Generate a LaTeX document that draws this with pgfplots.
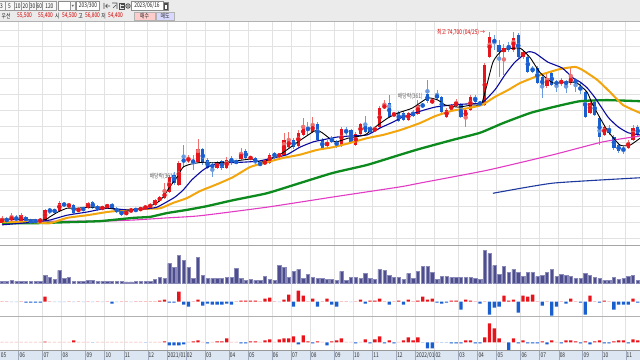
\documentclass[border=0pt]{standalone}
\usepackage{pgfplots}
\pgfplotsset{compat=1.18}
\usepackage{pgfplotstable}
\usepackage{graphicx}
\usepackage{fontspec}
\setmainfont{Noto Sans CJK KR}
\definecolor{upc}{HTML}{E8141C}
\definecolor{dnc}{HTML}{1A5FD0}
\definecolor{upw}{HTML}{F07070}
\definecolor{dnw}{HTML}{6A9AE0}
\definecolor{gridc}{HTML}{E2E2E2}
\definecolor{volc}{HTML}{4E4E8E}
\definecolor{vole}{HTML}{8A8AB8}
\definecolor{upl}{HTML}{F4A6A6}
\definecolor{dnl}{HTML}{A6C4F0}
\definecolor{maten}{HTML}{0A0AA0}
\definecolor{matw}{HTML}{F2A50C}
\definecolor{masx}{HTML}{0C8A1E}
\definecolor{maot}{HTML}{E23CC4}
\definecolor{matf}{HTML}{1E3A9E}
\definecolor{tbbg}{HTML}{EBEBEB}
\definecolor{stripc}{HTML}{DCE6F2}
\definecolor{stripg}{HTML}{9EAABC}
\newcommand{\tx}[1]{{\fontsize{6.5}{7}\selectfont\scalebox{0.75}[1]{#1}}}

\pgfplotstableread{
w o h l c
0 38900 40300 38800 39900
1 39700 40100 38900 39300
2 39700 40800 39300 39900
3 40100 40400 39100 39500
4 39300 40800 39100 40400
5 40100 40300 39100 39300
6 39500 39700 38900 39100
7 39500 39700 38900 39100
8 39100 39900 38900 39700
9 39500 41600 39300 41400
10 41400 41700 40600 41200
11 41400 41600 40800 41000
12 41200 43100 41000 42700
13 42700 42900 41900 42100
14 42100 42700 41900 42300
15 42300 42500 40600 40800
16 41200 41700 41000 41600
17 41700 41900 41200 41400
18 41700 42900 41600 42700
19 42900 43100 41600 41700
20 42100 42300 41200 41400
21 41600 42100 41400 41900
22 41900 42500 41700 42300
23 42500 42700 41600 41700
24 41700 41900 40800 41000
25 41200 41400 40300 40400
26 40600 41200 40400 41000
27 41000 41700 40800 41600
28 41600 41700 41000 41200
29 41400 41900 41200 41700
30 41600 42300 41400 42100
31 41700 42700 41600 42500
32 42300 43400 42100 43200
33 43100 44000 42900 43800
34 43600 46400 43400 44700
35 44700 47900 44600 47500
36 47900 48500 46000 46400
37 46000 50500 45900 50200
38 50700 53500 49200 50500
39 50700 51700 50200 50900
40 50700 51700 48800 50200
41 50300 54600 50200 52800
42 52800 53000 49800 50200
43 50700 51100 49000 49200
44 49800 50300 47500 49400
45 49200 50500 49000 50200
46 50500 50700 48800 49200
47 49200 51300 49000 50700
48 51100 51500 49800 50200
49 50500 50700 50000 50200
50 50900 53000 50700 52000
51 52400 52800 50700 51100
52 50900 51500 50700 51300
53 51100 51300 49600 50200
54 50200 50300 49600 49800
55 50000 50700 49800 50500
56 50200 52000 50000 51700
57 52000 52200 50900 51300
58 51500 51800 51300 51700
59 51700 55800 51500 54500
60 53100 55900 53000 54500
61 54500 54800 52800 53100
62 53300 56300 53100 55800
63 55400 58600 55200 56700
64 56700 57800 55400 56300
65 55900 58700 55800 57400
66 57400 57800 54300 54500
67 54500 54800 52600 52800
68 53300 54500 53000 54100
69 54800 55200 53900 54100
70 54300 54500 53000 53300
71 53300 56900 53100 56500
72 56300 56900 55400 55800
73 56300 56500 53900 54100
74 53500 55900 53300 55600
75 55600 57600 55400 57400
76 57400 58900 55800 55900
77 56900 57100 55800 55900
78 56300 56900 56100 56500
79 56900 60800 56700 60400
80 60400 61900 60200 61000
81 61400 62900 58600 58700
82 59100 59700 58900 59300
83 59500 59900 57800 58000
84 59500 59900 58000 58200
85 58200 59700 58000 59500
86 59700 60100 58700 58900
87 59300 61900 59100 61000
88 61200 61400 60400 60600
89 63000 65700 61400 61700
90 61400 62300 61200 61900
91 62900 63800 61900 62300
92 62500 62700 59500 59700
93 58700 60400 58600 60100
94 60100 61200 59900 61000
95 60800 62100 60600 61600
96 61000 61400 58600 58700
97 58600 60400 56900 60100
98 60100 62900 59900 62500
99 62500 62900 61400 61600
100 61600 61700 60800 61000
101 61000 68800 60800 68500
102 70000 74700 69800 73700
103 73100 74100 71300 72800
104 72200 73100 66200 70900
105 70900 72400 66600 71600
106 72200 72800 70900 71300
107 71300 74600 70900 73500
108 74100 74400 69800 70000
109 70000 71300 69600 70900
110 70000 70300 67000 67200
111 67900 68300 67000 67200
112 67900 68300 64900 65100
113 66200 66600 62300 64400
114 64500 67200 64200 66000
115 67000 67300 64500 64700
116 65300 65700 63400 64900
117 64900 66000 64500 65700
118 65300 65700 63200 64900
119 65100 68100 64700 66200
120 65700 66000 63400 65100
121 64400 65100 63000 63800
122 63400 63800 58600 58700
123 59500 61700 59300 61400
124 61600 61900 58900 59100
125 58600 58900 53500 55000
126 55400 57300 55200 56900
127 56700 57300 55400 55800
128 55000 55400 52600 53000
129 53500 53900 52000 52400
130 53000 53300 51800 52400
131 53000 54500 52800 54100
132 54500 57300 54300 56700
133 56900 57300 55000 55400
}\candles

\pgfplotstableread{
w v f g
0 2 0.5 0.5
1 2 0.5 0.5
2 3 -0.5 0.5
3 2 -0.5 0.5
4 2 0.5 0.5
5 2 -1 0.5
6 2 -1 0.5
7 2 -1 0.5
8 2 -1 0.5
9 8 5 0.8
10 6 0.5 0.5
11 4 -0.5 0.5
12 13 -0.5 0.5
13 5 -0.5 0.5
14 6 0.5 0.5
15 2 -0.5 2
16 2 0.5 0.5
17 2 -0.5 0.5
18 3 0.5 0.5
19 3 -0.5 -0.5
20 2 0.5 0.5
21 2 -0.5 0.5
22 2 0.5 0.5
23 2 -2 0.5
24 2 -0.5 0.5
25 2 0.5 0.5
26 1.5 0.5 0.5
27 1.5 -0.5 0.5
28 2 0.5 0.5
29 2 0.5 0.5
30 2 0.5 -0.5
31 2 0.5 0.5
32 4 0.5 0.5
33 6 1 0.5
34 5 2 1
35 20 -1 -3
36 16 -1 -3
37 28 10 -3
38 23 -3 -2
39 16 -5 0.5
40 5 0.5 1
41 26 2 2
42 8 -4 0.5
43 5 -2 -1
44 5 -3 0.5
45 5 -3 1
46 5 -3 1
47 6 -2 4
48 6 -3 0.5
49 15 0.5 0.5
50 5 1 -1
51 3 1 -1
52 4 1 1
53 3 1 1
54 3 0.5 0.5
55 7 3 2
56 4 4 3
57 3 0.5 0.5
58 18 -0.5 3
59 16 2 4
60 6 7 4
61 12 -5 6
62 14 11 -2
63 5 6 7
64 9 0.5 1
65 6 3 -1
66 5 -5 1
67 5 0.5 0.5
68 4 3 -3
69 4 -3 1
70 3 -5 2
71 12 0.5 4
72 3 0.5 0.5
73 6 -0.5 0.5
74 6 0.5 -1
75 5 2 0.5
76 10 -2 3
77 5 1 -1
78 4 1 3
79 14 3 6
80 13 0.5 -1
81 8 -3 2
82 6 0.5 -1
83 6 1 0.5
84 4 -3 2
85 10 2 5
86 5 0.5 2
87 12 1 5
88 17 5 -0.5
89 17 2 -6
90 11 3 -6
91 4 -1 0.5
92 7 -2 -0.5
93 7 -1 -0.5
94 6 1 -1
95 6 1 -1
96 6 -8 -1
97 6 2 2
98 6 1 2
99 5 0.5 -1
100 4 -2 -1
101 33 0.5 5
102 30 -13 19
103 18 -6 14
104 9 -5 4
105 17 6 0.5
106 11 1 -8
107 14 2 4
108 11 -11 -1
109 7 6 2
110 11 5 -1
111 11 7 -1
112 7 0.5 -1
113 8 -4 1
114 11 0.5 -2
115 14 -14 2
116 7 -5 0.5
117 9 0.5 -1
118 8 -2 2
119 7 3 2
120 5 0.5 1
121 5 -1 -1
122 10 -13 1
123 8 6 -2
124 6 0.5 1
125 5 -1 2
126 3 1 -1
127 3 0.5 -1
128 6 -8 1
129 4 -3 2
130 5 -3 2
131 7 -3 -1
132 8 3 3
133 3 -1 2
}\flows

\pgfplotstableread{
w p
0 39700
8.6 39500
10 40100
11.7 41000
13.6 41700
15.7 41700
17.8 41900
20.5 41900
23.2 41600
25.3 41000
27.4 41400
30.3 41900
32.4 42700
33.7 43800
35.1 45700
36.6 47500
37.9 49400
39.7 50000
42 50300
43.9 50200
46.7 50300
50.2 50700
52.3 50900
54 50300
55.6 50700
58.6 52000
61.9 54100
64.9 55900
65.9 56300
67 55800
69.7 54100
72.4 54800
75.9 55400
78.7 57300
80.8 58600
82.8 59500
85.8 60400
89.1 62300
91.2 61900
92.7 61000
95.4 60600
98.3 61000
100.4 61400
102.7 69000
104.8 71300
108.4 71600
110.5 69800
112.6 67000
115.3 65100
118.2 65300
120.3 65100
122.4 63400
123.6 61000
126.6 56300
129.3 53500
131.4 53500
133.5 54800
}\maA

\pgfplotstableread{
w p
0 38600
6.5 39100
10 39500
13.6 40400
17.8 41000
22 41700
26.2 41400
30.3 41600
32.4 41900
34.5 42900
36.2 43800
37.9 45100
39.7 47000
42 48800
43.9 49800
46.7 50200
50.2 50300
53.6 50500
56.7 51100
59.6 51700
62.3 53100
65.1 54100
67.2 54500
70.1 55000
72.8 55200
76.4 55400
79.1 56700
81.8 57800
83.7 58700
87 59700
90.6 60600
94.1 61000
97.5 61200
100.4 61400
103.1 63800
105.2 66600
107.3 69000
110 70900
111.5 70700
114.2 69000
117.2 67900
119.5 66000
120.9 65300
122.4 64200
124.1 62300
126.8 58700
128.9 56900
131 55800
133.5 55400
}\maB

\pgfplotstableread{
w p
0 39100
6.5 39100
10 38900
13.6 39900
17.8 40400
22 41000
26.2 41400
30.3 41600
33.1 41700
35.8 42700
38.7 43600
41.4 44900
45 46200
48.3 47500
51.9 49400
55.4 50300
58.8 51100
62.3 51700
65.9 52600
69.2 53100
72.8 53900
76.4 54800
79.7 55400
83.3 56300
87.4 57600
90.6 58900
94.1 59900
97.5 60400
100.4 61000
103.1 62500
105.9 63800
108.4 65100
112.6 66600
116.7 67700
119.9 68100
121.5 67500
124.5 65700
127.2 63400
129.9 61000
133.5 59500
}\maC

\pgfplotstableread{
w p
0 38900
6.5 38900
13.6 39100
20.5 39300
27.4 39900
31 40100
34.5 40800
38.7 41400
42.9 42100
48.3 43200
55.4 44500
62.3 46400
69.2 48300
76.4 49800
83.3 51700
87.4 52800
94.4 54500
100 55800
104.8 57600
110.5 59500
115.3 60600
120.9 61700
126.6 61900
133.5 61700
}\maD

\pgfplotstableread{
w p
0 39300
20.5 39300
27.4 39500
34.5 39900
41.4 40300
55.4 41900
69.2 43800
83.3 45700
87.4 46400
101.5 48800
115.3 51700
125.7 54100
133.5 55200
}\maE

\pgfplotstableread{
w p
102.7 44500
115.3 46400
133.5 47400
}\maF

\pgfplotsset{
  panel/.style={scale only axis, width=640bp, xmin=-0.42, xmax=133.47,
    anchor=south west, axis line style={draw=none}, tick style={draw=none},
    major tick length=0pt, scaled y ticks=false, scaled x ticks=false,
    xtick={3.5,8.5,12.5,17.5,21.5,25.5,30.5,34.5,38.5,42.5,47.5,51.5,56.5,60.5,64.5,69.5,73.5,77.5,82.5,86.5,90.5,95.5,99.5,103.5,108.5,112.5,116.5,121.5,125.5,130.5},
    xticklabels={}, yticklabels={}, xmajorgrids,
    grid style={draw=gridc, line width=0.8bp}},
  flowbars/.style={ybar, bar width=3.3bp, bar shift=0pt, draw=none},
}

\begin{document}
\begin{tikzpicture}[x=1bp,y=1bp]
\path[use as bounding box] (0,0) rectangle (640,360);
\clip (0,0) rectangle (640,360);
\fill[white] (0,0) rectangle (640,360);

% ---------------- main price panel ----------------
\begin{scope}[shift={(0,115)}]
\begin{axis}[panel, height=223bp, ymin=34838, ymax=76494,
  ytick={36000,39000,...,75000}, ymajorgrids]
\addplot[upw, only marks, mark=none, forget plot,
  restrict expr to domain={\thisrow{c}-\thisrow{o}}{0:1e9},
  error bars/.cd, y dir=both, y explicit, error mark=none,
  error bar style={line width=0.9bp, draw=upw}]
  table[x=w, y expr={(\thisrow{h}+\thisrow{l})/2}, y error expr={(\thisrow{h}-\thisrow{l})/2}] {\candles};
\addplot[dnw, only marks, mark=none, forget plot,
  restrict expr to domain={\thisrow{c}-\thisrow{o}}{-1e9:-1},
  error bars/.cd, y dir=both, y explicit, error mark=none,
  error bar style={line width=0.9bp, draw=dnw}]
  table[x=w, y expr={(\thisrow{h}+\thisrow{l})/2}, y error expr={(\thisrow{h}-\thisrow{l})/2}] {\candles};
\addplot[upc, only marks, mark=none, forget plot,
  restrict expr to domain={\thisrow{c}-\thisrow{o}}{0:1e9},
  error bars/.cd, y dir=both, y explicit, error mark=none,
  error bar style={line width=3.3bp, draw=upc}]
  table[x=w, y expr={(\thisrow{o}+\thisrow{c})/2}, y error expr={abs(\thisrow{c}-\thisrow{o})/2}] {\candles};
\addplot[dnc, only marks, mark=none, forget plot,
  restrict expr to domain={\thisrow{c}-\thisrow{o}}{-1e9:-1},
  error bars/.cd, y dir=both, y explicit, error mark=none,
  error bar style={line width=3.3bp, draw=dnc}]
  table[x=w, y expr={(\thisrow{o}+\thisrow{c})/2}, y error expr={abs(\thisrow{c}-\thisrow{o})/2}] {\candles};
\addplot[matf, line width=1.1bp, smooth, tension=0.3] table[x=w,y=p] {\maF};
\addplot[maot, line width=1.1bp, smooth, tension=0.3] table[x=w,y=p] {\maE};
\addplot[masx, line width=2.3bp, smooth, tension=0.3] table[x=w,y=p] {\maD};
\addplot[matw, line width=2bp, smooth, tension=0.3] table[x=w,y=p] {\maC};
\addplot[maten, line width=1.1bp, smooth, tension=0.3] table[x=w,y=p] {\maB};
\addplot[black, line width=0.9bp, smooth, tension=0.3] table[x=w,y=p] {\maA};
\node[text=red!85!black, anchor=east, inner sep=0pt] at (axis cs:101.1,74500) {\tx{최고 74,700 (04/25) →}};
\node[text=black!60, inner sep=0.5bp] at (axis cs:33.5,47700) {\tx{배당락(361)}};
\node[text=black!60, inner sep=0.5bp] at (axis cs:85.4,62500) {\tx{배당락(361)}};
\end{axis}
\end{scope}

% ---------------- volume panel ----------------
\begin{scope}[shift={(0,75)}]
\begin{axis}[panel, height=40bp, ymin=-1.7, ymax=38.3, ytick=\empty]
\addplot[ybar, bar width=3.3bp, bar shift=0pt, fill=volc, draw=vole, line width=0.3bp] table[x=w,y=v] {\flows};
\end{axis}
\end{scope}

% ---------------- flow panel 1 ----------------
\begin{scope}[shift={(0,44)}]
\begin{axis}[panel, height=31bp, ymin=-14.5, ymax=16.5, ytick=\empty]
\addplot[flowbars, fill=upc, restrict y to domain=0.76:100] table[x=w,y=f] {\flows};
\addplot[flowbars, fill=upl, restrict y to domain=0:0.75] table[x=w,y=f] {\flows};
\addplot[flowbars, fill=dnl, restrict y to domain=-0.75:0] table[x=w,y=f] {\flows};
\addplot[flowbars, fill=dnc, restrict y to domain=-100:-0.76] table[x=w,y=f] {\flows};
\end{axis}
\end{scope}

% ---------------- flow panel 2 ----------------
\begin{scope}[shift={(0,9.5)}]
\begin{axis}[panel, height=34.5bp, ymin=-8.2, ymax=26.3, ytick=\empty]
\addplot[flowbars, fill=upc, restrict y to domain=0.76:100] table[x=w,y=g] {\flows};
\addplot[flowbars, fill=upl, restrict y to domain=0:0.75] table[x=w,y=g] {\flows};
\addplot[flowbars, fill=dnl, restrict y to domain=-0.75:0] table[x=w,y=g] {\flows};
\addplot[flowbars, fill=dnc, restrict y to domain=-100:-0.76] table[x=w,y=g] {\flows};
\end{axis}
\end{scope}

% ---------------- date strip ----------------
\begin{axis}[panel, height=9.5bp, ymin=0, ymax=1, ytick=\empty,
  axis background/.style={fill=stripc}, grid style={draw=stripg, line width=0.6bp}]
\node[anchor=west, inner sep=0.7bp, text=black!80] at (axis cs:-0.42,0.5) {\tx{05}};
\node[anchor=west, inner sep=0.7bp, text=black!80] at (axis cs:3.5,0.5) {\tx{06}};
\node[anchor=west, inner sep=0.7bp, text=black!80] at (axis cs:8.5,0.5) {\tx{07}};
\node[anchor=west, inner sep=0.7bp, text=black!80] at (axis cs:12.5,0.5) {\tx{08}};
\node[anchor=west, inner sep=0.7bp, text=black!80] at (axis cs:17.5,0.5) {\tx{09}};
\node[anchor=west, inner sep=0.7bp, text=black!80] at (axis cs:21.5,0.5) {\tx{10}};
\node[anchor=west, inner sep=0.7bp, text=black!80] at (axis cs:25.5,0.5) {\tx{11}};
\node[anchor=west, inner sep=0.7bp, text=black!80] at (axis cs:30.5,0.5) {\tx{12}};
\node[anchor=west, inner sep=0.7bp, text=black!80] at (axis cs:34.5,0.5) {\tx{2021/01}};
\node[anchor=west, inner sep=0.7bp, text=black!80] at (axis cs:38.5,0.5) {\tx{02}};
\node[anchor=west, inner sep=0.7bp, text=black!80] at (axis cs:42.5,0.5) {\tx{03}};
\node[anchor=west, inner sep=0.7bp, text=black!80] at (axis cs:47.5,0.5) {\tx{04}};
\node[anchor=west, inner sep=0.7bp, text=black!80] at (axis cs:51.5,0.5) {\tx{05}};
\node[anchor=west, inner sep=0.7bp, text=black!80] at (axis cs:56.5,0.5) {\tx{06}};
\node[anchor=west, inner sep=0.7bp, text=black!80] at (axis cs:60.5,0.5) {\tx{07}};
\node[anchor=west, inner sep=0.7bp, text=black!80] at (axis cs:64.5,0.5) {\tx{08}};
\node[anchor=west, inner sep=0.7bp, text=black!80] at (axis cs:69.5,0.5) {\tx{09}};
\node[anchor=west, inner sep=0.7bp, text=black!80] at (axis cs:73.5,0.5) {\tx{10}};
\node[anchor=west, inner sep=0.7bp, text=black!80] at (axis cs:77.5,0.5) {\tx{11}};
\node[anchor=west, inner sep=0.7bp, text=black!80] at (axis cs:82.5,0.5) {\tx{12}};
\node[anchor=west, inner sep=0.7bp, text=black!80] at (axis cs:86.5,0.5) {\tx{2022/01}};
\node[anchor=west, inner sep=0.7bp, text=black!80] at (axis cs:90.5,0.5) {\tx{02}};
\node[anchor=west, inner sep=0.7bp, text=black!80] at (axis cs:95.5,0.5) {\tx{03}};
\node[anchor=west, inner sep=0.7bp, text=black!80] at (axis cs:99.5,0.5) {\tx{04}};
\node[anchor=west, inner sep=0.7bp, text=black!80] at (axis cs:103.5,0.5) {\tx{05}};
\node[anchor=west, inner sep=0.7bp, text=black!80] at (axis cs:108.5,0.5) {\tx{06}};
\node[anchor=west, inner sep=0.7bp, text=black!80] at (axis cs:112.5,0.5) {\tx{07}};
\node[anchor=west, inner sep=0.7bp, text=black!80] at (axis cs:116.5,0.5) {\tx{08}};
\node[anchor=west, inner sep=0.7bp, text=black!80] at (axis cs:121.5,0.5) {\tx{09}};
\node[anchor=west, inner sep=0.7bp, text=black!80] at (axis cs:125.5,0.5) {\tx{10}};
\node[anchor=west, inner sep=0.7bp, text=black!80] at (axis cs:130.5,0.5) {\tx{11}};
\end{axis}

% separators
\draw[black!35, line width=0.8bp] (0,115) -- (640,115);
\draw[black!30, line width=0.8bp] (0,44) -- (640,44);
\draw[black!40, line width=0.8bp] (0,9.5) -- (640,9.5);

% ---------------- toolbar ----------------
\fill[tbbg] (0,338.5) rectangle (640,360);
\draw[black!30, line width=0.9bp] (0,338.3) -- (640,338.3);
\foreach \a/\b/\t in {-2/5/3, 5/14/5, 14/21.7/10, 21.7/29/20, 29/36/30, 36/42.7/60, 42.7/56/120}{
  \draw[draw=black!40, fill=black!3, line width=0.5bp] (\a,349.5) rectangle (\b,358.5);
  \node[inner sep=0pt, text=black!85] at ({(\a+\b)/2},354) {\tx{\t}};
}
\draw[draw=black!45, fill=white, line width=0.5bp] (58,349.5) rectangle (70,358.5);
\draw[draw=black!40, fill=black!3, line width=0.5bp] (70,349.5) rectangle (75.5,358.5);
\fill[black!60] (71.5,355.2) -- (74,355.2) -- (72.75,353.2) -- cycle;
\draw[draw=black!45, fill=white, line width=0.5bp] (76.5,349.5) rectangle (99.5,358.5);
\node[inner sep=0pt, text=black!85] at (88,354) {\tx{203/300}};
\draw[black!70, line width=0.6bp] (104,351) -- (104,357) (105.5,354) -- (110,354) (105.5,354) -- (107.5,356) (105.5,354) -- (107.5,352);
\draw[black!70, line width=0.6bp] (112,357) -- (117,357) -- (117,351) (113,352) -- (116,355);
\draw[black!70, line width=0.6bp, fill=black!10] (119.5,351) rectangle (124.5,357);
\draw[black!70, line width=0.5bp] (120.5,355.5) -- (123.5,355.5) (120.5,354) -- (123.5,354) (120.5,352.5) -- (123.5,352.5);
\draw[black!70, line width=0.8bp] (128,354) circle (2.2bp);
\fill[black!70] (128,354) circle (0.9bp);
\draw[draw=black!45, fill=white, line width=0.5bp] (131,349.5) rectangle (163,358.5);
\node[inner sep=0pt, text=black!85] at (147,354) {\tx{2023/06/16}};
\draw[draw=black!45, fill=white, line width=0.5bp] (163.5,350) rectangle (168.5,358);
\draw[black!70, line width=0.5bp] (164.5,351) rectangle (167.5,357) (164.5,356) -- (167.5,356);
\node[inner sep=0pt, text=black!85, anchor=west] at (1.5,344) {\tx{우선}};
\node[inner sep=0pt, text=red!85!black] at (24.5,344) {\tx{55,500}};
\node[inner sep=0pt, text=red!85!black] at (45.5,344) {\tx{55,400}};
\node[inner sep=0pt, text=black!85] at (57.3,344) {\tx{시}};
\node[inner sep=0pt, text=red!85!black] at (69.5,344) {\tx{54,500}};
\node[inner sep=0pt, text=black!85] at (80.5,344) {\tx{고}};
\node[inner sep=0pt, text=red!85!black] at (92.5,344) {\tx{56,800}};
\node[inner sep=0pt, text=black!85] at (103.5,344) {\tx{저}};
\node[inner sep=0pt, text=red!85!black] at (115.5,344) {\tx{54,400}};
\draw[draw=black!30, fill=red!20, line width=0.5bp] (134,340) rectangle (155,348);
\node[inner sep=0pt, text=black!85] at (144.5,344) {\tx{매수}};
\draw[draw=black!30, fill=blue!15, line width=0.5bp] (156.5,340) rectangle (174,348);
\node[inner sep=0pt, text=black!85] at (165.2,344) {\tx{매도}};
\end{tikzpicture}
\end{document}
